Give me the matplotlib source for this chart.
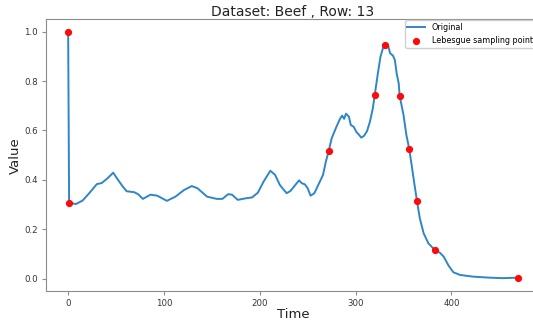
import matplotlib
matplotlib.use('Agg')
import matplotlib.pyplot as plt

# series (time, value)
time = [0, 1, 8, 15, 22, 30, 35, 41, 47, 51, 57, 61, 69, 73, 78, 86, 93, 103,
        112, 121, 129, 135, 145, 155, 161, 167, 171, 177, 185, 192, 198, 204,
        211, 216, 221, 228, 232, 237, 241, 244, 247, 250, 253, 257, 261, 266,
        269, 272, 275, 280, 284, 286, 288, 290, 293, 295, 298, 301, 303, 306,
        309, 312, 315, 318, 320, 323, 326, 329, 331, 334, 336, 339, 341, 343,
        345, 346, 350, 353, 356, 359, 361, 364, 367, 371, 376, 383, 388, 392,
        397, 402, 409, 423, 440, 454, 469]
value = [1.0, 0.308, 0.302, 0.316, 0.346, 0.383, 0.387, 0.406, 0.429, 0.406,
         0.373, 0.354, 0.350, 0.342, 0.323, 0.340, 0.336, 0.315, 0.332, 0.359,
         0.375, 0.366, 0.332, 0.323, 0.323, 0.342, 0.340, 0.319, 0.325, 0.329,
         0.348, 0.393, 0.437, 0.420, 0.379, 0.346, 0.355, 0.379, 0.398, 0.386,
         0.382, 0.366, 0.336, 0.346, 0.379, 0.420, 0.474, 0.518, 0.568, 0.615,
         0.649, 0.660, 0.647, 0.668, 0.656, 0.622, 0.615, 0.593, 0.585, 0.571,
         0.579, 0.598, 0.636, 0.690, 0.744, 0.825, 0.899, 0.939, 0.946, 0.943,
         0.913, 0.903, 0.885, 0.828, 0.791, 0.740, 0.663, 0.582, 0.525, 0.447,
         0.393, 0.316, 0.245, 0.184, 0.143, 0.115, 0.105, 0.089, 0.053, 0.026,
         0.015, 0.008, 0.004, 0.002, 0.004]

# lebesgue sampling points
samp_t = [0, 1, 272, 320, 331, 346, 356, 364, 383, 469]
samp_v = [1.0, 0.308, 0.518, 0.744, 0.946, 0.740, 0.525, 0.316, 0.115, 0.004]

fig = plt.figure(figsize=(5.33, 3.2), dpi=100)
ax = fig.add_axes([0.0857, 0.0906, 0.9274, 0.849])

ax.plot(time, value, color='#2e86c8', lw=1.4, label='Original')
ax.plot(samp_t, samp_v, 'o', color='#ff0a0a', ms=4.2, label='Lebesgue sampling points')

ax.set_ylim(-0.05, 1.05)
ax.set_yticks([0.0, 0.2, 0.4, 0.6, 0.8, 1.0])
ax.set_xticks([0, 100, 200, 300, 400])

for s in ax.spines.values():
    s.set_color('#8c8c8c')
ax.tick_params(colors='#8c8c8c', labelcolor='#333333', labelsize=6.2,
               length=3, pad=2.5)

ax.set_title('Dataset: Beef , Row: 13', fontsize=10, color='#222222', pad=2)
ax.set_xlabel('Time', fontsize=9.5, color='#222222', labelpad=0)
ax.set_ylabel('Value', fontsize=9.5, color='#222222', labelpad=2)

ax.legend(loc='upper right', fontsize=5.8, framealpha=1, edgecolor='#d0d0d0',
          handlelength=2.2, borderaxespad=0.1, borderpad=0.3, labelspacing=0.6)

fig.savefig('out.png', dpi=100)
